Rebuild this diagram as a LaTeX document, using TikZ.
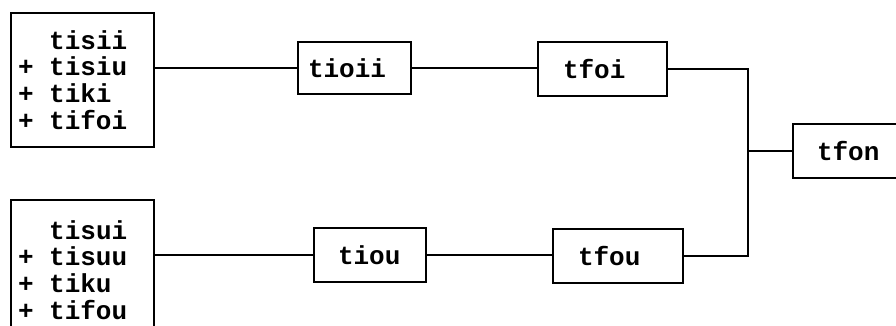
\documentclass[tikz,border=0pt]{standalone}
\usepackage{fontspec}
\setmonofont{Liberation Mono}
\newcommand{\plusmark}{\makebox[1.2em][l]{+}}
\newcommand{\noplus}{\makebox[1.2em][l]{}}
\begin{document}
\begin{tikzpicture}[x=1pt,y=-1pt,
  font=\ttfamily\bfseries\fontsize{26}{26.7}\selectfont,
  box/.style={draw, line width=1.3pt, rectangle, align=left, inner ysep=0pt},
  wire/.style={line width=1.3pt}]
\clip (0,0) rectangle (896,326);
\useasboundingbox (0,0) rectangle (896,326);
\node[box, text width=129pt, inner xsep=7pt, minimum height=134pt] (in1) at (82.5,80)
  {\noplus tisii\\\plusmark tisiu\\\plusmark tiki\\\plusmark tifoi};
\node[box, text width=129pt, inner xsep=7pt, minimum height=140pt] (in2) at (82.5,270)
  {\noplus tisui\\\plusmark tisuu\\\plusmark tiku\\\plusmark tifou};
\node[box, text width=93pt, inner xsep=10pt, minimum height=52pt] (tioii) at (354.5,68) {tioii};
\node[box, text width=79pt, inner xsep=25pt, minimum height=54pt] (tfoi) at (602.5,69) {tfoi};
\node[box, text width=64pt, inner xsep=24pt, minimum height=54pt] (tiou) at (370,255) {tiou};
\node[box, text width=80pt, inner xsep=25pt, minimum height=54pt] (tfou) at (618,256) {tfou};
\node[box, text width=89pt, inner xsep=24pt, minimum height=54pt] (tfon) at (861.5,151) {tfon};
\coordinate (bus) at (748,151);
\draw[wire] (tioii.west -| in1.east) -- (tioii.west);
\draw[wire] (tiou.west -| in2.east) -- (tiou.west);
\draw[wire] (tioii.east) -- (tioii.east -| tfoi.west);
\draw[wire] (tiou.east) -- (tiou.east -| tfou.west);
\draw[wire] (tfoi.east) -| (bus) |- (tfou.east);
\draw[wire] (bus) -- (tfon.west);
\end{tikzpicture}
\end{document}
